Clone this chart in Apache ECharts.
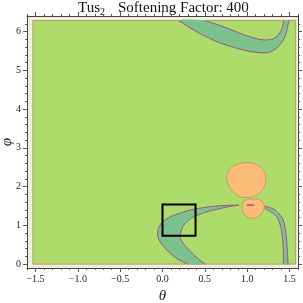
<!DOCTYPE html>
<html><head><meta charset="utf-8">
<script src="https://cdn.jsdelivr.net/npm/echarts@6/dist/echarts.min.js"></script>
<style>html,body{margin:0;padding:0;background:#fff}#c{width:303px;height:303px}</style>
</head><body><div id="c"></div>
<script>
// ---- tick values ----
const xMajorTicks = [-1.5, -1.0, -0.5, 0.0, 0.5, 1.0, 1.5];
const yMajorTicks = [0, 1, 2, 3, 4, 5, 6];
const xMinorTicks = [-1.6,-1.5,-1.4,-1.3,-1.2,-1.1,-1.0,-0.9,-0.8,-0.7,-0.6,-0.5,-0.4,-0.3,-0.2,-0.1,0,0.1,0.2,0.3,0.4,0.5,0.6,0.7,0.8,0.9,1.0,1.1,1.2,1.3,1.4,1.5,1.6];
const yMinorTicks = [0,0.2,0.4,0.6,0.8,1,1.2,1.4,1.6,1.8,2,2.2,2.4,2.6,2.8,3,3.2,3.4,3.6,3.8,4,4.2,4.4,4.6,4.8,5,5.2,5.4,5.6,5.8,6,6.2];

// ---- title pieces ----
const titleMain = 'Tus';
const titleSub = '2';
const titleRest = 'Softening Factor: 400';

// ---- regions (theta, phi) ----
const plotRegion = [[-1.53,0],[1.572,0],[1.572,6.283],[-1.53,6.283]];
const topBandUpper = [[0.502,6.283],[0.762,6.09],[0.998,5.886],[1.187,5.783],[1.305,5.809],[1.387,5.964],[1.423,6.17],[1.429,6.283]];
const topBandLower = [[0.195,6.283],[0.407,5.99],[0.679,5.706],[0.998,5.5],[1.234,5.449],[1.352,5.578],[1.446,5.862],[1.482,6.17],[1.494,6.283]];
const lowBandOuter = [[0.301,0],[0.159,0.157],[0.041,0.389],[-0.041,0.622],[-0.059,0.776],[-0.041,0.957],[0.006,1.099],[0.089,1.215],[0.171,1.29],[0.360,1.413],[0.643,1.499],[0.903,1.525]];
const lowBandInner = [[0.502,0],[0.396,0.183],[0.313,0.364],[0.242,0.544],[0.207,0.699],[0.219,0.854],[0.254,1.009],[0.325,1.163],[0.419,1.266],[0.525,1.352],[0.762,1.473],[0.903,1.525]];
const rightBandOuter = [[1.163,1.525],[1.245,1.473],[1.328,1.399],[1.387,1.266],[1.426,1.138],[1.452,0.879],[1.466,0.621],[1.476,0.312],[1.482,0]];
const rightBandInner = [[1.163,1.486],[1.222,1.421],[1.293,1.331],[1.352,1.215],[1.387,1.035],[1.411,0.802],[1.423,0.492],[1.429,0]];
const bigBlob = [[0.986,2.620],[1.080,2.594],[1.151,2.517],[1.198,2.401],[1.222,2.247],[1.216,2.092],[1.186,1.938],[1.127,1.809],[1.045,1.731],[0.963,1.718],[0.880,1.783],[0.815,1.912],[0.774,2.067],[0.758,2.234],[0.774,2.389],[0.821,2.505],[0.898,2.588]];
const smallBlob = [[1.072,1.679],[1.171,1.628],[1.202,1.465],[1.163,1.292],[1.072,1.181],[0.974,1.266],[0.939,1.465],[0.966,1.635]];
const blobDash = [[0.994,1.524],[1.080,1.524]];
const markBox = [[0,0.73],[0.39,0.73],[0.39,1.54],[0,1.54]];

const C = {
  green:'#addc6b', greenEdge:'#b09a68', cream:'#f3eedb',
  teal:'#7cc28f', purple:'#a04f8c', orange:'#fdbc79', orangeEdge:'#c99a62'
};

function shape(points, closed, style, smooth) {
  return {
    type:'custom', coordinateSystem:'cartesian2d', xAxisIndex:0, yAxisIndex:0,
    silent:true, animation:false, clip:false,
    data:[[points[0][0], points[0][1]]],
    renderItem:function(params, api){
      return {type: closed ? 'polygon' : 'polyline',
        shape:{points: points.map(p => api.coord(p)), smooth: smooth || 0},
        style: style};
    }
  };
}
const bandFill = (a, b) => a.concat(b.slice().reverse());

const fontS = 'Liberation Serif';
function xAxis(pos, major, showLabel) {
  return {type:'value', position:pos, min:-1.6, max:1.6, gridIndex:0,
    axisLine:{show:major, onZero:false, lineStyle:{color:'#444', width:1}},
    splitLine:{show:false},
    axisTick:{show:true, inside:false, length: major ? 4 : 2, customValues: major ? xMajorTicks : xMinorTicks, lineStyle:{color:'#555'}},
    axisLabel:{show:showLabel, customValues:xMajorTicks, margin:6, fontFamily:fontS, fontSize:10, color:'#222',
      formatter: v => (v < 0 ? '\u2212' : '') + Math.abs(v).toFixed(1)},
    name: showLabel ? 'θ' : '', nameLocation:'middle', nameGap:21, nameMoveOverlap:false,
    nameTextStyle:{fontFamily:fontS, fontStyle:'italic', fontSize:15, color:'#222'}
  };
}
function yAxis(pos, major, showLabel) {
  return {type:'value', position:pos, min:-0.1, max:6.4, gridIndex:0,
    axisLine:{show:major, onZero:false, lineStyle:{color:'#444', width:1}},
    splitLine:{show:false},
    axisTick:{show:true, inside:false, length: major ? 4 : 2, customValues: major ? yMajorTicks : yMinorTicks, lineStyle:{color:'#555'}},
    axisLabel:{show:showLabel, customValues:yMajorTicks, margin:6, fontFamily:fontS, fontSize:10, color:'#222'},
    name: showLabel ? 'φ' : '', nameLocation:'middle', nameGap:12, nameRotate:90, nameMoveOverlap:false,
    nameTextStyle:{fontFamily:fontS, fontStyle:'italic', fontSize:15, color:'#222'}
  };
}

const chart = echarts.init(document.getElementById('c'), null, {renderer:'canvas'});
chart.setOption({
  backgroundColor:'#ffffff',
  animation:false,
  graphic:[
    {type:'text', left:78, top:1, style:{text:titleMain, font:'15px "Liberation Serif"', fill:'#111'}},
    {type:'text', left:100, top:7, style:{text:titleSub, font:'10px "Liberation Serif"', fill:'#111'}},
    {type:'text', left:118, top:1, style:{text:titleRest, font:'15px "Liberation Serif"', fill:'#111'}}
  ],
  grid:{left:27, top:16, width:271, height:252, show:true, backgroundColor:C.cream, borderWidth:0, outerBoundsMode:'none', containLabel:false},
  xAxis:[xAxis('bottom', true, true), xAxis('bottom', false, false), xAxis('top', true, false), xAxis('top', false, false)],
  yAxis:[yAxis('left', true, true), yAxis('left', false, false), yAxis('right', true, false), yAxis('right', false, false)],
  series:[
    shape(plotRegion, true, {fill:C.green, stroke:C.greenEdge, lineWidth:1}),
    shape(bandFill(topBandUpper, topBandLower), true, {fill:C.teal, stroke:null}, 0.25),
    shape(topBandUpper, false, {fill:null, stroke:C.purple, lineWidth:1}, 0.25),
    shape(topBandLower, false, {fill:null, stroke:C.purple, lineWidth:1}, 0.25),
    shape(bandFill(lowBandOuter, lowBandInner), true, {fill:C.teal, stroke:null}, 0.25),
    shape(lowBandOuter, false, {fill:null, stroke:C.purple, lineWidth:1}, 0.25),
    shape(lowBandInner, false, {fill:null, stroke:C.purple, lineWidth:1}, 0.25),
    shape(bandFill(rightBandOuter, rightBandInner), true, {fill:C.teal, stroke:null}, 0.25),
    shape(rightBandOuter, false, {fill:null, stroke:C.purple, lineWidth:1}, 0.25),
    shape(rightBandInner, false, {fill:null, stroke:C.purple, lineWidth:1}, 0.25),
    shape(bigBlob, true, {fill:C.orange, stroke:C.orangeEdge, lineWidth:1}, 0.3),
    shape(smallBlob, true, {fill:C.orange, stroke:C.orangeEdge, lineWidth:1}, 0.35),
    shape(blobDash, false, {fill:null, stroke:C.purple, lineWidth:1.5}),
    shape(markBox, true, {fill:null, stroke:'#000', lineWidth:2})
  ]
});
</script></body></html>
